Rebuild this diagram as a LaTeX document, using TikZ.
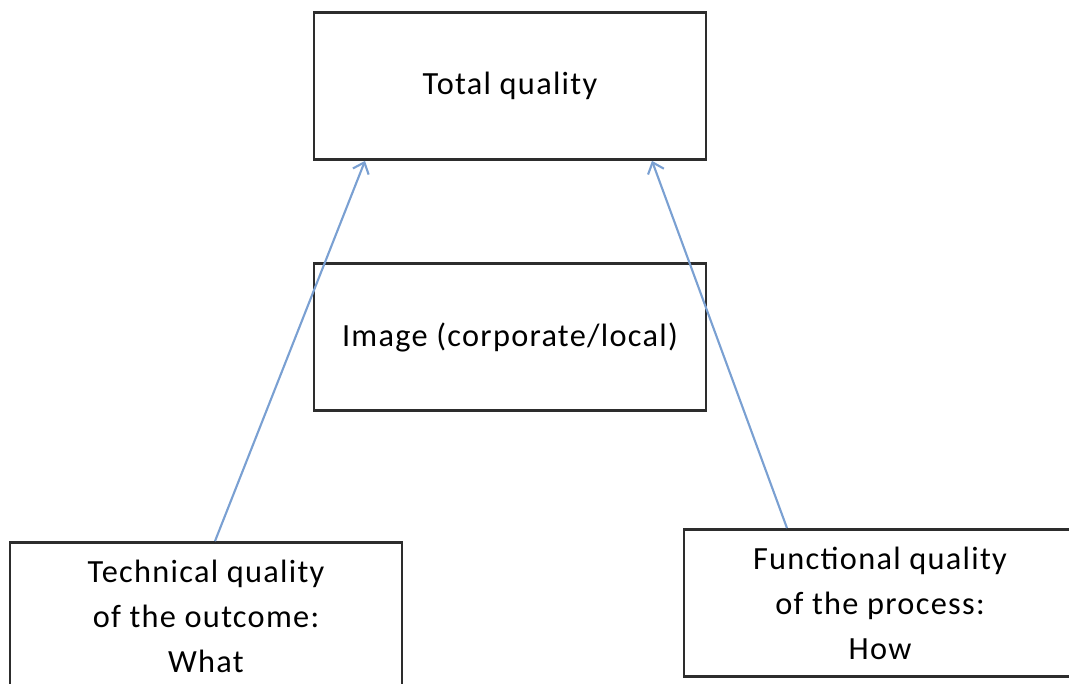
\documentclass[tikz,border=0pt]{standalone}
\usepackage{fontspec}
\setmainfont{Carlito}[LetterSpace=4]
\usetikzlibrary{arrows.meta}
\definecolor{boxline}{RGB}{45,45,45}
\definecolor{linkblue}{RGB}{122,160,210}
\begin{document}
\begin{tikzpicture}[
    qbox/.style = {draw = boxline, line width = 1.8pt, minimum width = 9.8cm,
                   minimum height = 3.68cm, align = center,
                   font = \fontsize{23}{32}\selectfont},
    link/.style = {draw = linkblue, line width = 1.5pt,
                   -{Straight Barb[length = 7pt, width = 12pt]}}]

    \useasboundingbox (0,0) rectangle (26.725,17.1);

    \node[qbox] (total) at (12.75, 14.95) {Total quality};
    \node[qbox] (image) at (12.75, 8.675) {Image (corporate/local)};

    \node[qbox] (technical) at (5.15, 1.7) {Technical quality\\ of the outcome:\\ What};
    \node[qbox] (functional) at (22.0, 2.025) {Functional quality\\ of the process:\\ How};

    \draw[link] ([xshift = 0.225cm]technical.north) -- ([xshift = -3.625cm]total.south);
    \draw[link] ([xshift = -2.325cm]functional.north) -- ([xshift = 3.55cm]total.south);
\end{tikzpicture}
\end{document}
